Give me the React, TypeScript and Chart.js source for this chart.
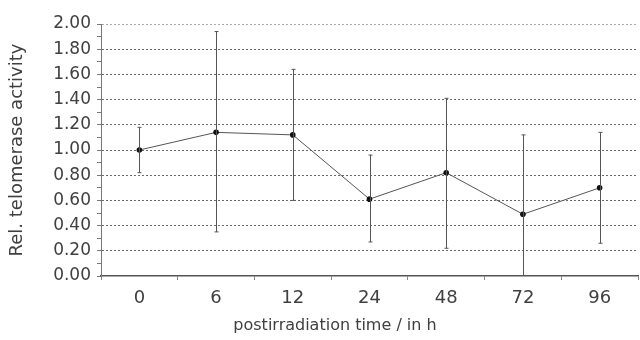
import React, { useEffect, useRef } from "react";
import { Chart, registerables } from "chart.js";

Chart.register(...registerables);

const categories = ["0", "6", "12", "24", "48", "72", "96"];
const meanValues = [1.0, 1.14, 1.12, 0.61, 0.82, 0.49, 0.7];
const upperValues = [1.18, 1.94, 1.64, 0.96, 1.41, 1.12, 1.14];
const lowerValues = [0.82, 0.35, 0.6, 0.27, 0.22, 0.0, 0.26];
const xTitle = "postirradiation time / in h";
const yTitle = "Rel. telomerase activity";

const FONT = "'DejaVu Sans', sans-serif";
const TEXT = "#404040";

const errorBarPlugin = {
  id: "errorBars",
  afterDatasetsDraw(chart: any) {
    const { ctx, scales } = chart;
    const xs = scales.x;
    const ys = scales.y;
    ctx.save();
    ctx.strokeStyle = "#555";
    ctx.lineWidth = 1;
    for (let i = 0; i < categories.length; i++) {
      const x = Math.round(xs.getPixelForValue(i)) + 0.5;
      const yTop = ys.getPixelForValue(upperValues[i]);
      const yBot = ys.getPixelForValue(lowerValues[i]);
      ctx.beginPath();
      ctx.moveTo(x, yTop);
      ctx.lineTo(x, yBot);
      ctx.moveTo(x - 2, yTop);
      ctx.lineTo(x + 2, yTop);
      if (lowerValues[i] > 0) {
        ctx.moveTo(x - 2, yBot);
        ctx.lineTo(x + 2, yBot);
      }
      ctx.stroke();
    }
    ctx.restore();
  },
};

const xTitlePlugin = {
  id: "xTitleText",
  afterDraw(chart: any) {
    const { ctx } = chart;
    ctx.save();
    ctx.fillStyle = TEXT;
    ctx.font = `16px ${FONT}`;
    ctx.textAlign = "center";
    ctx.textBaseline = "middle";
    ctx.fillText(xTitle, 335, 326);
    ctx.restore();
  },
};

export default function App() {
  const ref = useRef<HTMLCanvasElement | null>(null);
  useEffect(() => {
    if (!ref.current) return;
    const chart = new Chart(ref.current, {
      type: "line",
      data: {
        labels: categories,
        datasets: [
          {
            data: meanValues,
            borderColor: "#555",
            borderWidth: 1,
            pointRadius: 2.8,
            pointBackgroundColor: "#111",
            pointBorderWidth: 0,
            tension: 0,
          },
        ],
      },
      options: {
        responsive: false,
        animation: false,
        layout: { padding: { left: 0, right: 1, top: 24, bottom: 0 } },
        plugins: {
          legend: { display: false },
          tooltip: { enabled: false },
        },
        scales: {
          x: {
            offset: true,
            grid: {
              display: true,
              drawOnChartArea: false,
              offset: true,
              tickLength: 4,
              color: "#888",
            },
            border: { display: true, color: "#555", width: 1.5 },
            ticks: {
              color: TEXT,
              font: { family: FONT, size: 18 },
              padding: 8,
            },
            title: { display: false },
            afterFit(scale: any) {
              scale.height = 64;
            },
          },
          y: {
            min: 0,
            max: 2,
            ticks: {
              stepSize: 0.1,
              autoSkip: false,
              color: TEXT,
              font: { family: FONT, size: 17 },
              padding: 6,
              callback: (value: any, index: number) =>
                index % 2 === 0 ? Number(value).toFixed(2) : "",
            },
            grid: {
              tickLength: 4,
              tickColor: "#777",
              color: (ctx: any) =>
                ctx.index % 2 === 0 && ctx.index > 0
                  ? ctx.index === 20
                    ? "#aaa"
                    : "#6a6a6a"
                  : "rgba(0,0,0,0)",
            },
            border: { display: true, color: "#777", width: 1, dash: [2, 2] },
            title: {
              display: true,
              text: yTitle,
              color: TEXT,
              font: { family: FONT, size: 18 },
              padding: { top: 7, bottom: 7 },
            },
            afterFit(scale: any) {
              scale.width = 101;
            },
          },
        },
      },
      plugins: [errorBarPlugin, xTitlePlugin],
    });
    return () => chart.destroy();
  }, []);
  return (
    <div
      style={{
        position: "fixed",
        left: 0,
        top: 0,
        width: 640,
        height: 340,
        overflow: "hidden",
        background: "#fff",
      }}
    >
      <canvas ref={ref} width={642} height={340} />
    </div>
  );
}
